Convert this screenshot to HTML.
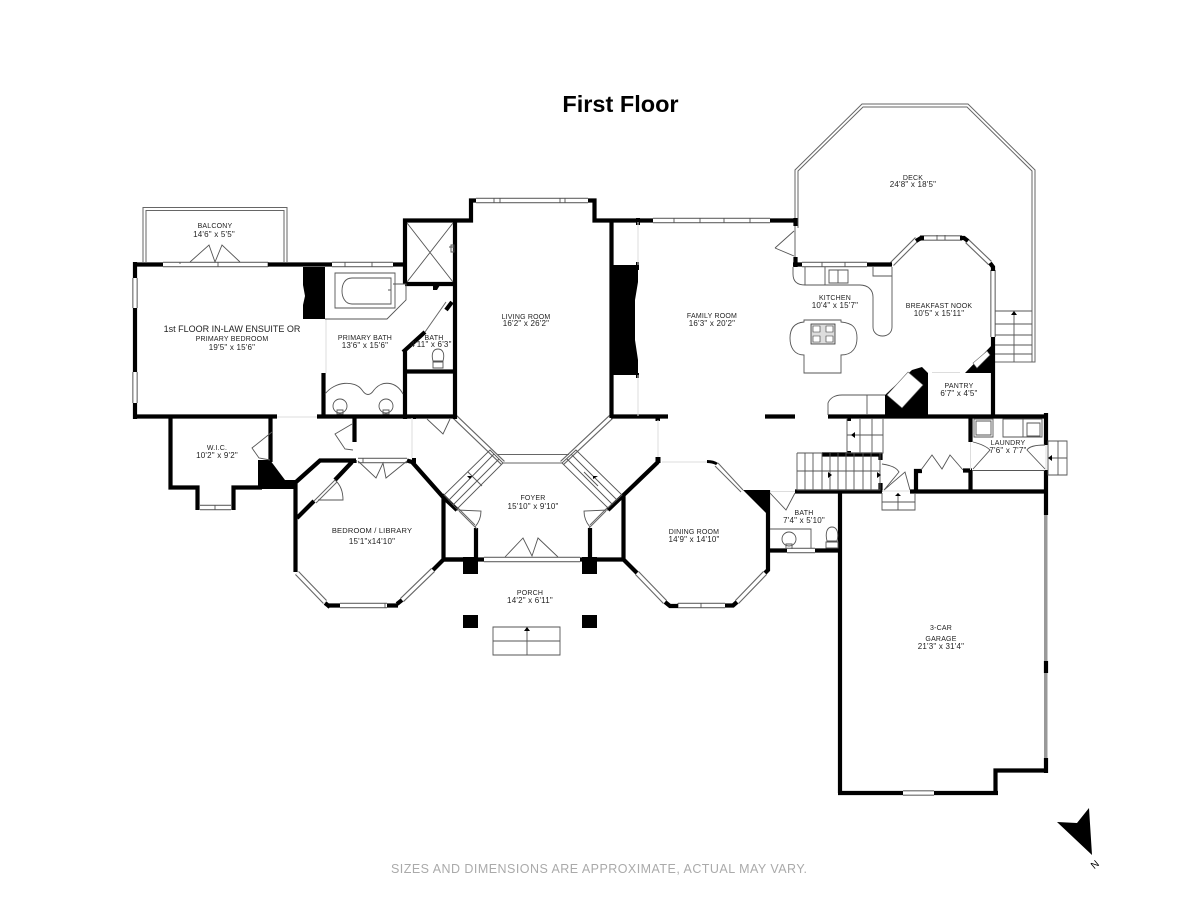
<!DOCTYPE html>
<html><head><meta charset="utf-8">
<style>
html,body{margin:0;padding:0;background:#fff;width:1200px;height:900px;overflow:hidden}
svg{display:block}
text{font-family:"Liberation Sans",sans-serif;text-anchor:middle;fill:#222;font-size:8px;letter-spacing:.2px}
text.c{font-size:7px;letter-spacing:.2px}
.wall{fill:none;stroke:#000;stroke-width:4.2;stroke-linejoin:miter}
.thin{fill:none;stroke:#555;stroke-width:.9}
.lite{fill:none;stroke:#ddd;stroke-width:1}
.dbl{fill:none;stroke:#666;stroke-width:1}
</style></head><body>
<svg width="1200" height="900" viewBox="0 0 1200 900" xmlns="http://www.w3.org/2000/svg">
<defs>
<path id="win" d="M163,264.5H268M332,264.5H393M135,278V308M135,372V403M476,200.5H588M653,220.5H770M802,264.5H867M892,264L917,239M920,238H962M967,241L990,263M993,270V337M484,559.5H580M637,573L665,602M678,605.5H725M737,602L765,573M787,550.5H815M903,793H934M358,460.5H407M433,570L402,600M387,605.5H340M325,602L297,573M200,507.5H231M455,417L503,463M611,417L562,463"/>
</defs>
<text x="620.5" y="112" style="font-size:23.5px;font-weight:bold;letter-spacing:0;fill:#000">First Floor</text>

<!-- deck -->
<path class="dbl" d="M795,262V170L862,104H968L1035,170V362H995M798,228V171L863,107H967L1032,171V362"/>
<path class="dbl" d="M143,262V207.5H287V262M146,262V210.5H284V262"/>
<!-- windows -->
<use href="#win" fill="none" stroke="#666" stroke-width="5.4"/>
<use href="#win" fill="none" stroke="#fff" stroke-width="3.2"/>
<path class="thin" d="M180,264V262M268,262V267M218,262V267M345,262V267M372,262V267M500,198V203M494,198V203M565,198V203M560,198V203M674,218V223M700,218V223M724,218V223M750,218V223M822,262V267M845,262V267M937,235V240M945,235V240M678,603V608M701,603V608M363,458V463M385,603V608M215,505V510"/>

<!-- walls -->
<path class="wall" d="M133,264.5H163M268,264.5H332M393,264.5H407M135,262V278M135,308V372M135,403V419M133,416.5H277M317,416.5H457"/>
<path class="wall" d="M405,284V220.5H455V419M455,220.5H471V200.5H476M588,200.5H594.5V220.5H653M770,220.5H797M795.5,218V226M795.5,257V267M793,264.5H802M867,264.5H892"/>
<path class="wall" d="M405,284H457M405,350V419M405,371.5H457M403,352L425,332M446,310L452,302M323.5,373V416M611.5,220V418M611,416.5H668M765,416.5H795" />
<path class="wall" d="M916,241L921,238H924M960,238H964L968,241M990,263L993,267V271M993,337V415M828,416.5H1046"/>
<path class="wall" d="M442,495L457,510M476,528V560M590,528V560M443,559.5H484M580,559.5H623M623.5,495V560M658,462L608,510M623,559L637,573M665,602L670,606H678M725,605.5H733L737,602M765,573L768,570V490"/>
<path class="wall" d="M795,491.5H882M910,491.5H1046M840,491V793M770,550.5H787M815,550.5H838M822,454.5H882M880.5,453V460M880.5,483V492M916,491V471H922M963,470.5H972M970.5,418V442M970.5,470V491"/>
<path class="wall" d="M1046,413V445M1046,470V515M1046,661V673M1046,758V773M1048,770.5H995.5V793M998,793H934M903,793H838"/>
<path class="wall" d="M170.5,416V487.5H197.5V510M233.5,510V487.5H262M270.5,416V462M295.5,480V572M296,482L320,460.5H356M354.5,415V442M354.5,460V463M352,462L335,480M314,501L297,518M407,460.5L412,462L443,497L457,510M443.5,497V560M443,559.5H463M433,570L443,560M397,604L402,600M387,605.5H398M327,605.5H340M325,603L330,607"/>
<path d="M303,267H325V319H303V305L305,296L303,285Z"/>
<path d="M610,265H638V282L635,300V340L638,360V375H610V360L613,340V300L610,282Z"/>
<path d="M258,460H270L285,480H297V489H258ZM743,490H770V513H766ZM992,345V373H965ZM885,395L912,370L922,367L928,373V415H885Z"/>
<path fill="#fff" stroke="#666" stroke-width=".6" d="M908,372L923,385L902,408L887,395ZM987,351L990,355L977,368L973,363Z"/>
<path d="M463,557H478V574H463ZM582,557H597V574H582ZM463,615H478V628H463ZM582,615H597V628H582ZM655.5,416H660V421H655.5ZM655.5,457H660.5V463H655.5ZM636,218H640V225H636ZM636,262H639V270H636ZM636,373H639V378H636ZM433,285H440L437,290H433ZM847,418H851V421H847ZM847,451H851V455H847ZM413,415H416V419H413ZM412,458H416V463H412Z"/>
<path d="M707,460Q714,460 718,463L716,465Q712,463 707,463Z"/>
<path d="M1044,515h3.5v146h-3.5zM1044,673h3.5v85h-3.5z" fill="#999"/>
<path class="lite" d="M326,319V373M638,222V265M638,375V416M658,420V457M662,462H707M277,417H317M412,418V458"/>
<path class="lite" d="M1046,445V470M970.5,442V470M932,372.5H960M770,491.5H795M882,491H910"/>
<path class="dbl" d="M718,463L743,490M715,466L741,492M457,507L475,525M459,511L477,529M608,507L590,525M606,511L589,528M503,463H562M497,454.5H569M335,480L314,501M337,482L316,503M446,302L425,332"/>

<!-- balcony door -->
<path class="thin" d="M190,262L209,245L215,262L222,245L240,262"/>
<!-- shower -->
<path class="thin" d="M407,223L453,282M453,223L407,282M451,245h3v7h-3zM449,247h5"/>
<!-- tub -->
<path class="thin" d="M335,273H395V308H335ZM352,278H391V304H352C345,304 342,297 342,291C342,284 345,278 352,278ZM393,284L406,284V300L387,319H325M388,290h3M391,287v7"/>
<!-- vanity -->
<path class="thin" d="M325,394C335,381 355,380 362,390C366,396 370,396 374,390C382,380 396,381 403,394"/>
<circle class="thin" cx="340" cy="406" r="7"/><circle class="thin" cx="386" cy="406" r="7"/>
<path class="thin" d="M337,414h6v-4h-6zM383,414h6v-4h-6z"/>
<!-- toilet -->
<path class="thin" d="M433,368V362H443V368ZM433,361C431,354 433,349 438,349C443,349 445,354 443,361Z"/>
<path class="thin" d="M826,548V542H838V548ZM827,541C825,533 827,527 832,527C837,527 839,533 837,541Z"/>
<path class="thin" d="M770,529H811V548M770,493L786,510L795,493"/>
<circle class="thin" cx="789" cy="539" r="7"/>
<path class="thin" d="M786,549V544H792V549"/>
<!-- doors -->
<path class="thin" d="M272,432L252,448L259,458L270,460M352,424L335,434L345,449L353,450M427,419L443,434L450,419M358,461L376,478L383,463L386,478L407,461M335,480Q343,487 343,500H318M457,510L481,511Q481,520 475,527M608,510L584,511Q584,520 590,527M505,557L523,538L532,556L538,538L558,557M775,248L794,231M775,248L794,256M882,464Q896,466 899,472L884,490M884,490L905,472L910,490M921,470L932,455L942,469L950,455L963,470M973,442Q985,445 990,450L973,469M1045,445Q1030,445 1027,450L1045,469"/>
<!-- stairs -->
<path class="thin" d="M490,450L503,463L457,509L444,495ZM494,454L449,500M499,459L453,505M468,472L482,486M576,450L562,463L608,508L622,495ZM571,454L617,500M567,459L612,504M584,472L598,486"/>
<path class="thin" d="M797,453H822M797,453V490H880V453M805,453V490M813,453V490M822,453V490M830,453V490M838,453V490M846,453V490M854,453V490M863,453V490M871,453V490M797,471H880"/>
<path class="thin" d="M847,418V453H883V418M860,418V453M872,418V453M847,435H883"/>
<path class="thin" d="M882,493V510H915V493M898,493V510M882,502H915"/>
<path class="thin" d="M493,627H560V655H493ZM527,627V655M493,641H560"/>
<path class="thin" d="M995,311H1032M995,324H1032M995,335H1032M995,345H1032M995,354H1032M1014,311V362"/>
<path class="thin" d="M1048,441H1067V475H1048ZM1058,441V475M1048,458H1067"/>
<path d="M828,472l4,3l-4,3ZM877,472l4,3l-4,3ZM851,435l4,-3v6ZM898,493l-3,3h6ZM527,627l-3,4h6ZM1014,311l-3,4h6ZM467,476l5,0l-2,3ZM593,476l5,0l-5,3ZM1048,458l4,-3v6Z" />
<!-- kitchen -->
<path class="thin" d="M793,267V274C793,281 797,285 805,285H860C868,285 873,290 873,297V327C873,339 892,339 892,327V267M805,267V285M825,267V285M873,267V276H892M829,270H848V283H829ZM838,270V283"/>
<path class="thin" d="M804,373H841V355C853,355 857,347 857,338C857,328 853,323 841,322V320H804V322C793,323 790,330 790,338C790,347 794,355 804,355Z"/>
<rect x="811" y="324" width="24" height="20" fill="#ddd" stroke="#333" stroke-width=".8"/>
<path fill="#fff" stroke="#333" stroke-width=".6" d="M813,326h7v6h-7zM826,326h7v6h-7zM813,336h7v6h-7zM826,336h7v6h-7z"/>
<path class="thin" d="M828,415V403C830,398 835,395 842,395H885M867,395V415"/>
<!-- laundry -->
<path class="thin" d="M974,419H993V437H974ZM976,421H991V435H976ZM1003,419H1042V437H1003ZM1023,419V437M1027,423H1040V436H1027ZM972,470.5H1045"/>
<!-- labels -->
<text class="c" x="215" y="228">BALCONY</text><text x="214" y="237">14'6" x 5'5"</text>
<text x="232" y="332" style="font-size:9px;letter-spacing:0">1st FLOOR IN-LAW ENSUITE OR</text><text class="c" x="232" y="341">PRIMARY BEDROOM</text><text x="232" y="350">19'5" x 15'6"</text>
<text class="c" x="365" y="340">PRIMARY BATH</text><text x="365" y="348">13'6" x 15'6"</text>
<text class="c" x="434" y="340">BATH</text><text x="431" y="347">4'11" x 6'3"</text>
<text class="c" x="526" y="319">LIVING ROOM</text><text x="526" y="326">16'2" x 26'2"</text>
<text class="c" x="712" y="318">FAMILY ROOM</text><text x="712" y="326">16'3" x 20'2"</text>
<text class="c" x="913" y="180">DECK</text><text x="913" y="187">24'8" x 18'5"</text>
<text class="c" x="835" y="300">KITCHEN</text><text x="835" y="308">10'4" x 15'7"</text>
<text class="c" x="939" y="308">BREAKFAST NOOK</text><text x="939" y="316">10'5" x 15'11"</text>
<text class="c" x="959" y="388">PANTRY</text><text x="959" y="396">6'7" x 4'5"</text>
<text class="c" x="1008" y="445">LAUNDRY</text><text x="1008" y="453">7'6" x 7'7"</text>
<text class="c" x="804" y="515">BATH</text><text x="804" y="523">7'4" x 5'10"</text>
<text class="c" x="941" y="630">3-CAR</text><text class="c" x="941" y="641">GARAGE</text><text x="941" y="649">21'3" x 31'4"</text>
<text class="c" x="694" y="534">DINING ROOM</text><text x="694" y="542">14'9" x 14'10"</text>
<text class="c" x="533" y="500">FOYER</text><text x="533" y="509">15'10" x 9'10"</text>
<text class="c" x="530" y="595">PORCH</text><text x="530" y="603">14'2" x 6'11"</text>
<text class="c" x="372" y="533" style="font-size:7.5px">BEDROOM / LIBRARY</text><text x="372" y="544">15'1"x14'10"</text>
<text class="c" x="217" y="450">W.I.C.</text><text x="217" y="458">10'2" x 9'2"</text>
<text x="599" y="873" textLength="416" lengthAdjust="spacing" style="font-size:12.5px;fill:#aaa;letter-spacing:0">SIZES AND DIMENSIONS ARE APPROXIMATE, ACTUAL MAY VARY.</text>
<polygon points="1089,808 1077,823 1057,822 1092,855"/>
<text transform="translate(1097,867) rotate(-40)" style="font-size:10px;fill:#000;letter-spacing:0">N</text>
</svg>
</body></html>
